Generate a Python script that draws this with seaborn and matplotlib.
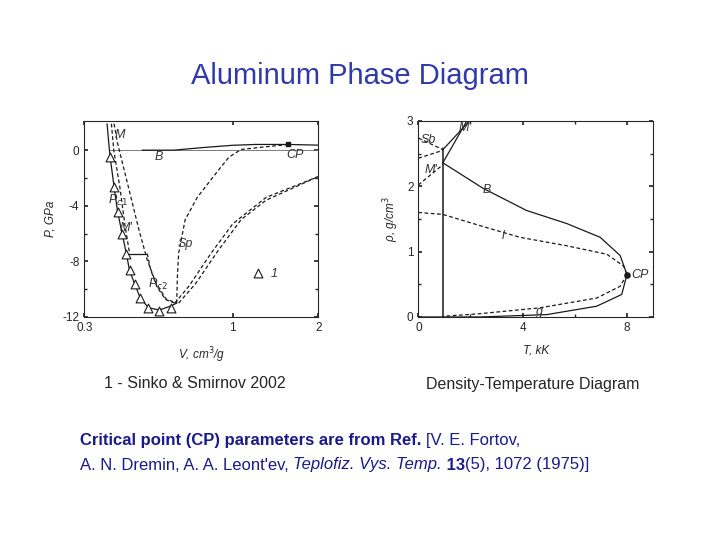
import numpy as np
import matplotlib
matplotlib.use("Agg")
import matplotlib.pyplot as plt
import seaborn as sns

sns.set_theme(style="ticks")
plt.rcParams['font.family'] = ['Liberation Sans', 'DejaVu Sans']
plt.rcParams['axes.unicode_minus'] = False

# ---- left panel data: V (cm3/g), P (GPa) ----
tri_v = [0.370, 0.382, 0.393, 0.408, 0.422, 0.433, 0.451, 0.472, 0.505, 0.552, 0.607]
tri_p = [-0.48, -2.63, -4.42, -6.01, -7.44, -8.64, -9.6, -10.62, -11.34, -11.58, -11.38]
main_v = [0.361, 0.366, 0.370, 0.382, 0.393, 0.408, 0.422, 0.433, 0.451, 0.472, 0.505, 0.552, 0.607, 0.635]
main_p = [1.9, 0.5, -0.48, -2.63, -4.42, -6.01, -7.44, -8.64, -9.6, -10.62, -11.34, -11.5, -11.2, -11.0]
zero_v = [0.37, 2.0]
zero_p = [0.0, 0.0]
bin_v = [0.48, 0.62, 0.80, 1.0, 1.2, 1.57, 2.0]
bin_p = [0.0, 0.0, 0.2, 0.35, 0.41, 0.41, 0.36]
m_v = [0.382, 0.393, 0.412, 0.437, 0.467, 0.50, 0.535, 0.582, 0.635]
m_p = [1.9, 0.5, -1.2, -3.3, -5.7, -7.9, -9.5, -10.7, -11.0]
mp_v = [0.374, 0.381, 0.400, 0.418, 0.433]
mp_p = [1.9, 0.0, -2.6, -5.5, -7.4]
pc2h_v = [0.422, 0.50]
pc2h_p = [-7.44, -7.44]
pc2_v = [0.50, 0.514, 0.54, 0.58, 0.625]
pc2_p = [-7.44, -8.6, -9.8, -10.75, -11.0]
sp_v = [0.635, 0.638, 0.645, 0.68, 0.75, 0.87, 0.97, 1.07, 1.25, 1.57]
sp_p = [-11.0, -9.2, -7.4, -5.0, -3.4, -1.7, -0.5, 0.05, 0.2, 0.41]
d1_v = [0.625, 0.70, 0.84, 1.0, 1.31, 2.0]
d1_p = [-11.0, -9.8, -7.4, -5.3, -3.4, -1.9]
d2_v = [0.645, 0.74, 0.89, 1.07, 1.31, 2.0]
d2_p = [-11.0, -9.6, -7.2, -5.0, -3.6, -1.9]
cp_v, cp_p = 1.57, 0.41
leg_v, leg_p = 1.23, -8.83

# ---- right panel data: T (kK), rho (g/cm3) ----
vert_t = [0.94, 0.94]
vert_r = [0.0, 2.58]
b_t = [0.94, 2.48, 4.15, 5.69, 6.97, 7.74, 8.0, 7.8, 6.84, 4.92, 2.35, 0.0]
b_r = [2.36, 1.97, 1.63, 1.43, 1.22, 0.94, 0.65, 0.345, 0.165, 0.036, 0.0, 0.0]
l_t = [0.0, 0.94, 2.35, 3.89, 5.69, 7.23, 7.87, 8.0]
l_r = [1.6, 1.57, 1.40, 1.22, 1.09, 0.96, 0.78, 0.65]
g_t = [8.0, 7.74, 6.84, 4.66, 2.35, 0.94]
g_r = [0.65, 0.47, 0.29, 0.14, 0.05, 0.01]
sb_t = [0.0, 0.94]
sb_r = [2.74, 2.56]
sb2_t = [0.0, 0.94]
sb2_r = [2.43, 2.55]
mp2_t = [0.0, 0.94]
mp2_r = [2.02, 2.33]
m1_t = [0.94, 1.96]
m1_r = [2.56, 3.0]
m2_t = [0.94, 1.86]
m2_r = [2.36, 3.0]
cp_t, cp_r = 8.0, 0.65

fig = plt.figure(figsize=(7.2, 5.4), dpi=100)
blue = "#2f3aa8"
fig.text(0.5, 0.86, "Aluminum Phase Diagram", ha="center", va="center", fontsize=21, color=blue)

lw = 0.9
dash = (0, (3, 2))


def line(a, xv, yv, ls="-", w=lw, c="k"):
    sns.lineplot(x=xv, y=yv, ax=a, color=c, lw=w, ls=ls, sort=False, estimator=None)


ax = fig.add_axes([0.117, 0.413, 0.325, 0.363])
ax.set_xscale("log")
line(ax, main_v, main_p)
line(ax, zero_v, zero_p, w=0.6, c="#666")
line(ax, bin_v, bin_p)
line(ax, pc2h_v, pc2h_p)
for xv, yv in [(m_v, m_p), (mp_v, mp_p), (pc2_v, pc2_p), (sp_v, sp_p), (d1_v, d1_p), (d2_v, d2_p)]:
    line(ax, xv, yv, ls=dash)
ax.scatter(tri_v, tri_p, marker="^", s=40, facecolor="white", edgecolor="k", lw=0.8, zorder=5)
ax.scatter([leg_v], [leg_p], marker="^", s=40, facecolor="white", edgecolor="k", lw=0.8, zorder=5)
ax.scatter([cp_v], [cp_p], marker="s", s=10, color="k", zorder=5)
ax.set_xlim(0.3, 2)
ax.set_ylim(-12, 2.1)
ax.set_xticks([0.3, 1, 2])
ax.set_xticklabels(["0.3", "1", "2"])
ax.xaxis.set_minor_locator(matplotlib.ticker.NullLocator())
ax.set_yticks([0, -4, -8, -12])
ax.set_yticks([-2, -6, -10], minor=True)
ax.set_xlabel("V, cm$^3$/g", fontsize=8.5, style="italic", labelpad=8)
ax.set_ylabel("P, GPa", fontsize=8.5, style="italic")
kw = dict(fontsize=9, style="italic", color="#333")
ax.text(0.385, 0.9, "M", **kw)
ax.text(0.53, -0.7, "B", **kw)
ax.text(1.55, -0.6, "CP", **kw)
ax.text(0.365, -3.9, "P$_{c1}$", **kw)
ax.text(0.40, -5.8, "M'", **kw)
ax.text(0.64, -7.0, "Sp", **kw)
ax.text(0.505, -9.9, "P$_{c2}$", **kw)
ax.text(1.36, -9.1, "1", **kw)

ax2 = fig.add_axes([0.581, 0.413, 0.326, 0.363])
line(ax2, vert_t, vert_r, w=1.1)
line(ax2, b_t, b_r)
line(ax2, m1_t, m1_r)
line(ax2, m2_t, m2_r)
for xv, yv in [(l_t, l_r), (g_t, g_r), (sb_t, sb_r), (sb2_t, sb2_r), (mp2_t, mp2_r)]:
    line(ax2, xv, yv, ls=dash)
ax2.scatter([cp_t], [cp_r], s=14, color="k", zorder=5)
ax2.set_xlim(0, 9)
ax2.set_ylim(0, 3)
ax2.set_xticks([0, 4, 8])
ax2.set_xticks([2, 6], minor=True)
ax2.set_yticks([0, 1, 2, 3])
ax2.set_yticks([0.5, 1.5, 2.5], minor=True)
ax2.set_xlabel("T, kK", fontsize=8.5, style="italic", labelpad=8)
ax2.set_ylabel("ρ, g/cm$^3$", fontsize=8.5, style="italic")
ax2.text(0.1, 2.66, "Sb", **kw)
ax2.text(1.55, 2.85, "M", **kw)
ax2.text(0.25, 2.2, "M'", **kw)
ax2.text(2.45, 1.9, "B", **kw)
ax2.text(3.2, 1.2, "l", **kw)
ax2.text(4.5, 0.03, "g", **kw)
ax2.text(8.15, 0.6, "CP", **kw)

for a in (ax, ax2):
    a.tick_params(axis="both", which="both", direction="in", top=True, right=True, labelsize=8.5, length=3)
    a.tick_params(which="minor", length=2)
    for s in a.spines.values():
        s.set_linewidth(0.8)

fig.text(195 / 720, 1 - 384 / 540, "1 - Sinko & Smirnov 2002", ha="center", va="center", fontsize=11.5)
fig.text(533 / 720, 1 - 384 / 540, "Density-Temperature Diagram", ha="center", va="center", fontsize=11.5)

navy = "#1a1a8c"
fs = 12
t = fig.text(80 / 720, 1 - 440 / 540, "Critical point (CP) parameters are from Ref. ", fontsize=fs, weight="bold", color=navy, va="center")
t = plt.annotate("[V. E. Fortov,", xy=(1, 0), xycoords=t, va="bottom", fontsize=fs, color=navy, annotation_clip=False)
parts = [("A. N. Dremin, A. A. Leont'ev, ", "normal", "normal"), ("Teplofiz. Vys. Temp.", "normal", "italic"),
         (" 13", "bold", "normal"), ("(5), 1072 (1975)]", "normal", "normal")]
t = fig.text(80 / 720, 1 - 465 / 540, parts[0][0], fontsize=fs, color=navy, va="center")
for txt, w, st in parts[1:]:
    t = plt.annotate(txt, xy=(1, 0), xycoords=t, va="bottom", fontsize=fs, color=navy, weight=w, style=st, annotation_clip=False)

fig.savefig("out.png", dpi=100)
